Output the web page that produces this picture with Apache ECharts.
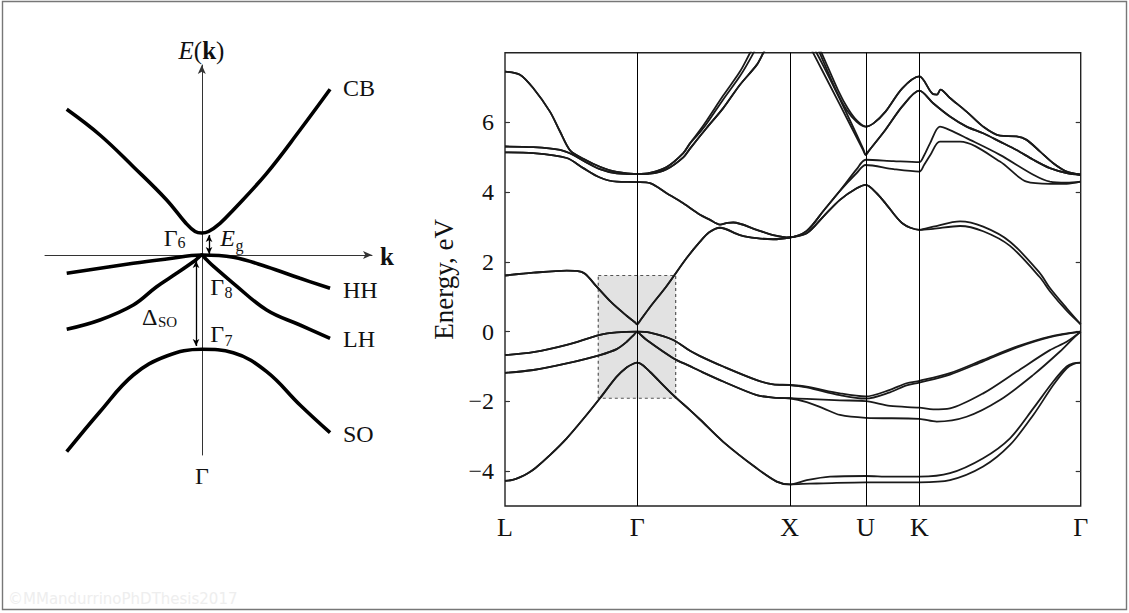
<!DOCTYPE html>
<html><head><meta charset="utf-8">
<script src="https://cdn.jsdelivr.net/npm/echarts@6/dist/echarts.min.js"></script>
<style>html,body{margin:0;padding:0;background:#fff}#c{width:1129px;height:613px}</style>
</head><body><div id="c"></div>
<script>
// ---------- Right panel: band structure ----------
const kPts = [0, 0.868, 1.868, 2.367, 2.719, 3.778];
const kLabels = ['L', 'Γ', 'X', 'U', 'K', 'Γ'];
const eTicks = [-4, -2, 0, 2, 4, 6];
const boxK = [0.612, 1.120];
const boxE = [-1.91, 1.61];

const soLX = [[0,-4.28],[0.05,-4.25],[0.10,-4.17],[0.15,-4.06],[0.20,-3.91],[0.30,-3.52],[0.405,-3.06],[0.52,-2.47],[0.623,-1.91],[0.733,-1.29],[0.800,-1.02],[0.842,-0.92],[0.868,-0.89],[0.900,-0.95],[0.951,-1.15],[1.104,-1.82],[1.214,-2.25],[1.280,-2.52],[1.432,-3.16],[1.652,-3.92],[1.783,-4.30],[1.868,-4.38]];
const soTailA = [[1.980,-4.26],[2.133,-4.16],[2.367,-4.14],[2.526,-4.16],[2.719,-4.16],[2.920,-4.06],[3.138,-3.63],[3.314,-3.06],[3.467,-2.20],[3.598,-1.43],[3.686,-1.00],[3.729,-0.91],[3.778,-0.89]];
const soTailB = [[2.000,-4.36],[2.089,-4.35],[2.367,-4.32],[2.719,-4.32],[2.920,-4.26],[3.138,-3.87],[3.314,-3.25],[3.467,-2.39],[3.598,-1.53],[3.686,-1.05],[3.729,-0.93],[3.778,-0.89]];

const hhLX = [[0,-0.67],[0.186,-0.59],[0.405,-0.38],[0.623,-0.09],[0.733,-0.02],[0.868,0],[0.951,-0.03],[1.104,-0.24],[1.214,-0.55],[1.280,-0.70],[1.432,-1.00],[1.652,-1.39],[1.760,-1.51],[1.868,-1.53]];
const hhTailA = [[1.980,-1.58],[2.198,-1.77],[2.367,-1.86],[2.526,-1.67],[2.635,-1.48],[2.719,-1.41],[2.920,-1.19],[3.138,-0.81],[3.357,-0.43],[3.576,-0.14],[3.778,0]];
const hhTailB = [[1.980,-1.60],[2.198,-1.82],[2.367,-1.92],[2.526,-1.74],[2.635,-1.54],[2.719,-1.46],[2.920,-1.23],[3.138,-0.85],[3.357,-0.46],[3.576,-0.16],[3.778,0]];

const lhLX = [[0,-1.18],[0.186,-1.10],[0.405,-0.91],[0.623,-0.67],[0.733,-0.50],[0.799,-0.29],[0.850,-0.07],[0.868,0],[0.886,-0.07],[0.930,-0.24],[1.104,-0.76],[1.214,-0.99],[1.280,-1.13],[1.432,-1.43],[1.652,-1.82],[1.760,-1.89],[1.868,-1.91]];
const lhTailA = [[1.980,-1.93],[2.198,-1.97],[2.367,-1.99],[2.526,-2.13],[2.719,-2.18],[2.810,-2.23],[2.920,-2.20],[3.138,-1.77],[3.357,-1.15],[3.576,-0.53],[3.686,-0.29],[3.778,0]];
const lhTailB = [[1.980,-2.02],[2.089,-2.20],[2.198,-2.39],[2.367,-2.47],[2.719,-2.50],[2.833,-2.58],[3.029,-2.44],[3.248,-1.96],[3.467,-1.24],[3.642,-0.57],[3.729,-0.19],[3.778,0]];

const cbLK = [[0,1.61],[0.186,1.69],[0.405,1.75],[0.47,1.74],[0.525,1.66],[0.60,1.30],[0.70,0.83],[0.80,0.45],[0.852,0.27],[0.868,0.21],[0.884,0.30],[0.951,0.70],[1.061,1.31],[1.192,2.11],[1.280,2.58],[1.340,2.85],[1.411,2.98],[1.542,2.77],[1.652,2.68],[1.760,2.65],[1.868,2.70],[1.980,2.82],[2.089,3.30],[2.198,3.78],[2.308,4.11],[2.367,4.21],[2.439,3.97],[2.497,3.68],[2.607,3.11],[2.719,2.92]];
const cbTailA = [[2.810,3.01],[2.986,3.16],[3.138,3.01],[3.314,2.58],[3.510,1.68],[3.576,1.25],[3.686,0.67],[3.778,0.21]];
const cbTailB = [[2.810,2.95],[2.986,3.03],[3.138,2.88],[3.314,2.46],[3.510,1.56],[3.576,1.16],[3.686,0.60],[3.778,0.21]];

const b78LU = [[0,5.14],[0.186,5.12],[0.405,4.98],[0.514,4.69],[0.623,4.42],[0.733,4.30],[0.868,4.29],[0.951,4.26],[1.061,3.97],[1.170,3.68],[1.280,3.35],[1.340,3.22],[1.411,3.07],[1.460,3.12],[1.498,3.13],[1.652,2.92],[1.760,2.77],[1.868,2.70],[1.980,2.89],[2.089,3.46],[2.198,4.04]];
const b7Tail = [[2.308,4.66],[2.367,4.93],[2.55,4.89],[2.719,4.86],[2.75,5.05],[2.789,5.40],[2.854,5.88],[2.920,5.78],[3.029,5.55],[3.248,5.07],[3.467,4.50],[3.576,4.30],[3.686,4.27],[3.778,4.30]];
const b8Tail = [[2.308,4.55],[2.367,4.78],[2.55,4.66],[2.719,4.59],[2.75,4.78],[2.789,5.05],[2.854,5.45],[2.986,5.45],[3.248,4.88],[3.423,4.30],[3.576,4.24],[3.686,4.24],[3.778,4.30]];

const b910LX = [[0,5.31],[0.186,5.29],[0.361,5.21],[0.448,5.07],[0.514,4.90],[0.623,4.66],[0.733,4.54],[0.868,4.52],[0.951,4.53],[1.061,4.66],[1.170,5.00],[1.214,5.25],[1.323,5.84],[1.432,6.41],[1.542,7.08],[1.652,7.65],[1.695,7.99],[1.868,9.3]];
const b9XU = [[2.023,7.99],[2.195,6.53],[2.350,5.21]];
const b10XU = [[2.045,7.99],[2.205,6.60],[2.352,5.23]];
const b910UG = [[2.367,5.07],[2.385,5.17],[2.497,5.79],[2.607,6.46],[2.719,6.91],[2.810,6.55],[2.920,6.17],[3.029,5.88],[3.138,5.69],[3.248,5.45],[3.357,5.21],[3.467,4.93],[3.576,4.69],[3.686,4.55],[3.778,4.50]];

const b1112LG = [[0,7.46],[0.098,7.37],[0.186,6.98],[0.295,6.31],[0.361,5.74],[0.427,5.20],[0.514,4.96],[0.623,4.73],[0.733,4.58],[0.868,4.52],[0.951,4.55],[1.061,4.72],[1.170,5.12],[1.214,5.40]];
const b11GX = [[1.280,5.78],[1.323,6.05],[1.432,6.77],[1.542,7.46],[1.608,7.99],[1.868,10.0]];
const b12GX = [[1.280,5.72],[1.323,5.96],[1.432,6.66],[1.542,7.33],[1.630,7.99],[1.868,10.0]];
const b11XU = [[2.066,7.99],[2.176,6.89],[2.242,6.36],[2.308,6.02]];
const b12XU = [[2.078,7.99],[2.186,6.92],[2.250,6.40],[2.310,6.05]];
const b1112UG = [[2.367,5.88],[2.42,5.98],[2.497,6.31],[2.607,6.98],[2.719,7.32],[2.810,6.81],[2.835,6.80],[2.858,6.94],[2.920,6.70],[3.029,6.31],[3.138,5.88],[3.248,5.62],[3.357,5.60],[3.423,5.50],[3.510,5.17],[3.598,4.83],[3.686,4.59],[3.778,4.50]];

// ---------- Left panel: schematic bands ----------
const leftCB = [[-1.008,1.457],[-0.760,1.20],[-0.511,0.883],[-0.262,0.55],[-0.12,0.32],[-0.05,0.235],[0,0.22],[0.05,0.235],[0.136,0.317],[0.235,0.45],[0.484,0.817],[0.733,1.25],[0.957,1.657]];
const leftHH = [[-1.008,-0.183],[-0.511,-0.083],[-0.262,-0.04],[0,0],[0.235,-0.023],[0.484,-0.117],[0.733,-0.233],[0.957,-0.333]];
const leftLH = [[-1.008,-0.743],[-0.760,-0.65],[-0.511,-0.50],[-0.337,-0.317],[-0.188,-0.183],[-0.063,-0.067],[-0.025,-0.027],[0,0],[0.03,-0.04],[0.09,-0.117],[0.235,-0.283],[0.484,-0.55],[0.733,-0.70],[0.957,-0.833]];
const leftSO = [[-1.008,-1.967],[-0.760,-1.567],[-0.511,-1.20],[-0.262,-1.01],[0,-0.943],[0.235,-0.977],[0.484,-1.167],[0.733,-1.50],[0.957,-1.777]];
const egArrow = [0.054, 0.01, 0.20];     // k, from E, to E
const dsoArrow = [-0.043, -0.06, -0.91]; // k, from E, to E

const SERIF = '"Liberation Serif", "DejaVu Serif", serif';
const INK = '#1a1a1a';

function band(name, data) {
  return { name, type: 'line', xAxisIndex: 1, yAxisIndex: 1, data, smooth: 0.3,
    showSymbol: false, symbol: 'none', lineStyle: { color: INK, width: 1.8 }, z: 3, silent: true, clip: true };
}
function schem(name, data, extra) {
  return Object.assign({ name, type: 'line', xAxisIndex: 0, yAxisIndex: 0, data, smooth: 0.4,
    showSymbol: false, symbol: 'none', lineStyle: { color: '#000', width: 3.6 }, z: 3, silent: true }, extra || {});
}
function nearestLabel(v) {
  let bi = 0; for (let i = 0; i < kPts.length; i++) if (Math.abs(kPts[i] - v) < Math.abs(kPts[bi] - v)) bi = i;
  return kLabels[bi];
}
function txt(text, x, y, size, opts) {
  return { type: 'text', x, y, silent: true, z: 10,
    style: Object.assign({ text, fill: '#111', font: size + 'px ' + SERIF, textAlign: 'center', textVerticalAlign: 'middle' }, opts || {}) };
}

const series = [
  band('SO a', soLX.concat(soTailA)),
  band('SO b', soLX.concat(soTailB)),
  band('HH a', hhLX.concat(hhTailA)),
  band('HH b', hhLX.concat(hhTailB)),
  band('LH a', lhLX.concat(lhTailA)),
  band('LH b', lhLX.concat(lhTailB)),
  band('CB a', cbLK.concat(cbTailA)),
  band('CB b', cbLK.concat(cbTailB)),
  band('B7', b78LU.concat(b7Tail)),
  band('B8', b78LU.concat(b8Tail)),
  band('B9', b910LX.concat(b9XU, b910UG)),
  band('B10', b910LX.concat(b10XU, b910UG)),
  band('B11', b1112LG.concat(b11GX, b11XU, b1112UG)),
  band('B12', b1112LG.concat(b12GX, b12XU, b1112UG)),
  { name: 'box', type: 'line', xAxisIndex: 1, yAxisIndex: 1, data: [], z: 1, silent: true,
    markArea: { silent: true, itemStyle: { color: '#e2e2e2', borderColor: '#555', borderWidth: 1.2, borderType: [3, 3] },
      label: { show: false }, data: [[{ coord: [boxK[0], boxE[1]] }, { coord: [boxK[1], boxE[0]] }]] } },
  { name: 'kLines', type: 'line', xAxisIndex: 1, yAxisIndex: 1, data: [], z: 2, silent: true,
    markLine: { silent: true, symbol: ['none', 'none'], label: { show: false }, animation: false,
      lineStyle: { color: '#000', width: 1, type: 'solid' },
      data: kPts.slice(1, 5).map(v => ({ xAxis: v })) } },
  schem('CB', leftCB, {
    markLine: { silent: true, symbol: ['arrow', 'arrow'], symbolSize: [5, 7], label: { show: false },
      lineStyle: { color: '#000', width: 1.3, type: 'solid' },
      data: [
        [{ coord: [egArrow[0], egArrow[1]] }, { coord: [egArrow[0], egArrow[2]] }],
        [{ coord: [dsoArrow[0], dsoArrow[1]] }, { coord: [dsoArrow[0], dsoArrow[2]] }]
      ] } }),
  schem('HH', leftHH),
  schem('LH', leftLH),
  schem('SO', leftSO)
];

const chart = echarts.init(document.getElementById('c'), null, { renderer: 'svg' });
chart.setOption({
  animation: false,
  backgroundColor: '#fff',
  grid: [
    { left: 45, top: 65, width: 327, height: 390, show: false },
    { left: 505, top: 52.7, width: 575.7, height: 453.3, show: true, borderColor: '#222', borderWidth: 1.4, backgroundColor: 'transparent' }
  ],
  xAxis: [
    { gridIndex: 0, type: 'value', min: -1.17, max: 1.27,
      axisLine: { show: true, onZero: true, symbol: ['none', 'arrow'], symbolSize: [6, 9], lineStyle: { color: '#333', width: 1 } },
      axisTick: { show: false }, axisLabel: { show: false }, splitLine: { show: false } },
    { gridIndex: 1, type: 'value', min: 0, max: kPts[kPts.length - 1],
      axisLine: { show: false }, axisTick: { show: false }, splitLine: { show: false },
      axisLabel: { customValues: kPts, formatter: v => nearestLabel(v), margin: 8, color: '#111', fontSize: 26, fontFamily: SERIF } }
  ],
  yAxis: [
    { gridIndex: 0, type: 'value', min: -2.0, max: 1.9,
      axisLine: { show: true, onZero: true, symbol: ['none', 'arrow'], symbolSize: [6, 9], lineStyle: { color: '#333', width: 1 } },
      axisTick: { show: false }, axisLabel: { show: false }, splitLine: { show: false } },
    { gridIndex: 1, type: 'value', min: -5, max: 8, position: 'left',
      name: 'Energy, eV', nameLocation: 'middle', nameGap: 34,
      nameTextStyle: { fontSize: 27, fontFamily: SERIF, color: '#111' },
      axisLine: { show: false }, splitLine: { show: false },
      axisTick: { show: true, inside: true, length: 5, customValues: eTicks, lineStyle: { color: '#333', width: 1.2 } },
      axisLabel: { customValues: eTicks, margin: 11, color: '#111', fontSize: 24, fontFamily: SERIF,
        formatter: v => (v < 0 ? '\u2212' + Math.abs(v) : String(v)) } },
    { gridIndex: 1, type: 'value', min: -5, max: 8, position: 'right',
      axisLine: { show: false }, splitLine: { show: false }, axisLabel: { show: false },
      axisTick: { show: true, inside: true, length: 5, customValues: eTicks, lineStyle: { color: '#333', width: 1.2 } } }
  ],
  graphic: [
    { type: 'rect', shape: { x: 2.5, y: 1.5, width: 1124, height: 608 }, style: { fill: 'none', stroke: '#777', lineWidth: 1.4 }, silent: true, z: 0 },
    { type: 'text', x: 201.5, y: 50, silent: true, z: 10,
      style: { text: '{i|E}{n|(}{b|k}{n|)}', textAlign: 'center', textVerticalAlign: 'middle', fill: '#111',
        rich: { i: { fontSize: 25, fontFamily: SERIF, fontStyle: 'italic', fill: '#111' },
                n: { fontSize: 25, fontFamily: SERIF, fill: '#111' },
                b: { fontSize: 25, fontFamily: SERIF, fontWeight: 'bold', fill: '#111' } } } },
    txt('k', 380, 256, 25, { textAlign: 'left', font: 'bold 25px ' + SERIF }),
    txt('CB', 343, 88, 24, { textAlign: 'left' }),
    txt('HH', 343, 290, 24, { textAlign: 'left' }),
    txt('LH', 343, 339, 24, { textAlign: 'left' }),
    txt('SO', 343, 434, 24, { textAlign: 'left' }),
    txt('Γ', 202, 476, 24),
    txt('Γ', 177.5, 237.5, 24, { textAlign: 'right' }),
    txt('6', 177.5, 242, 16, { textAlign: 'left' }),
    txt('E', 235, 237.5, 24, { textAlign: 'right', font: 'italic 24px ' + SERIF }),
    txt('g', 235.5, 245, 16, { textAlign: 'left' }),
    txt('Γ', 224, 287, 24, { textAlign: 'right' }),
    txt('8', 224.5, 292.5, 16, { textAlign: 'left' }),
    txt('Δ', 157.5, 316.5, 24, { textAlign: 'right' }),
    txt('SO', 158, 321.5, 15, { textAlign: 'left' }),
    txt('Γ', 224, 334, 24, { textAlign: 'right' }),
    txt('7', 224.5, 340, 16, { textAlign: 'left' }),
    { type: 'text', x: 8, y: 599, silent: true, z: 10,
      style: { text: '©MMandurrinoPhDThesis2017', fill: '#eeeeee', font: '15px "DejaVu Sans", sans-serif', textAlign: 'left', textVerticalAlign: 'middle' } }
  ],
  series
});
</script>
</body></html>
